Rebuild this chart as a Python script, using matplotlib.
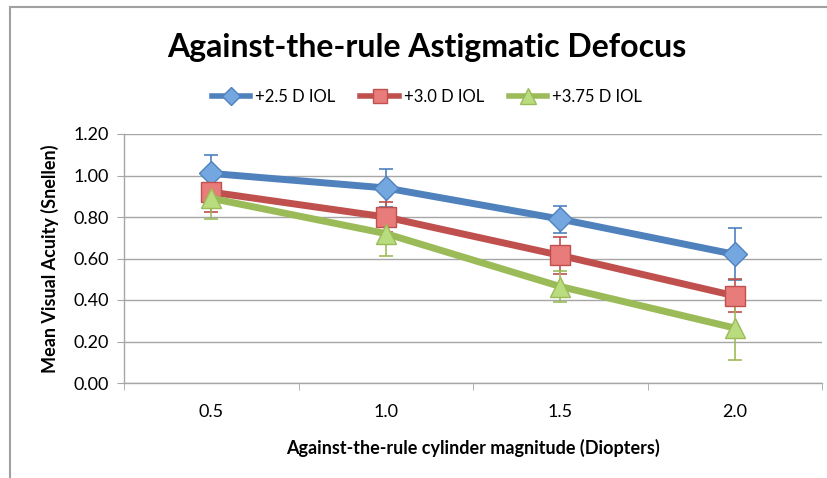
import matplotlib
matplotlib.use("Agg")
import matplotlib.pyplot as plt
from matplotlib.patches import Rectangle
from matplotlib.lines import Line2D
import numpy as np

plt.rcParams['font.family'] = ['Lato', 'DejaVu Sans']

categories = ["0.5", "1.0", "1.5", "2.0"]
series_names = ["+2.5 D IOL", "+3.0 D IOL", "+3.75 D IOL"]
iol_25 = [1.01, 0.94, 0.79, 0.62]
iol_25_err = [0.09, 0.09, 0.065, 0.125]
iol_30 = [0.92, 0.80, 0.615, 0.42]
iol_30_err = [0.095, 0.07, 0.09, 0.08]
iol_375 = [0.89, 0.72, 0.465, 0.265]
iol_375_err = [0.10, 0.11, 0.075, 0.155]
y_ticks = [0.0, 0.2, 0.4, 0.6, 0.8, 1.0, 1.2]

values = [iol_25, iol_30, iol_375]
errors = [iol_25_err, iol_30_err, iol_375_err]
line_colors = ["#4F81BD", "#C0504D", "#9BBB59"]
face_colors = ["#74A7E0", "#E87C7A", "#B9DC7E"]
markers = ["D", "s", "^"]
msizes = [12, 14, 15]

fig = plt.figure(figsize=(8.27, 4.78), dpi=100)
ax = fig.add_axes([124/827, 1-383/478, (822-124)/827, (383-134)/478])

x = np.arange(len(categories))
for v, e, lc in zip(values, errors, line_colors):
    ax.errorbar(x, v, yerr=e, fmt='none', ecolor=lc, elinewidth=1.2,
                capsize=5, capthick=1.2, zorder=2)
for v, lc, fc, m, ms in zip(values, line_colors, face_colors, markers, msizes):
    ax.plot(x, v, color=lc, lw=5, marker=m, markersize=ms,
            markerfacecolor=fc, markeredgecolor=lc, markeredgewidth=1, zorder=3)

ax.set_xlim(-0.5, len(categories) - 0.5)
ax.set_ylim(0, 1.2)
ax.set_yticks(y_ticks)
ax.set_yticklabels([f"{t:.2f}" for t in y_ticks], fontsize=13)
ax.yaxis.grid(True, color="#A6A6A6", lw=1)
ax.set_axisbelow(True)
ax.tick_params(axis='y', length=5, color="#A6A6A6", pad=6)

ax.set_xticks(x)
ax.set_xticklabels(categories, fontsize=13)
ax.set_xticks(np.arange(-0.5, len(categories)), minor=True)
ax.tick_params(axis='x', which='major', length=0, pad=15)
ax.tick_params(axis='x', which='minor', length=5, color="#A6A6A6")

for s in ["top", "right"]:
    ax.spines[s].set_visible(False)
for s in ["left", "bottom"]:
    ax.spines[s].set_color("#A6A6A6")
    ax.spines[s].set_linewidth(1)

ax.set_ylabel("Mean Visual Acuity (Snellen)", fontsize=13, fontweight='bold', labelpad=10)
ax.set_xlabel("Against-the-rule cylinder magnitude (Diopters)", fontsize=13,
              fontweight='bold', labelpad=14)

fig.text(427/827, 1-47/478, "Against-the-rule Astigmatic Defocus", fontsize=23,
         fontweight='bold', ha='center', va='center')

handles = [Line2D([0], [0], color=lc, lw=4, marker=m, markersize=ms*0.75,
                  markerfacecolor=fc, markeredgecolor=lc)
           for lc, fc, m, ms in zip(line_colors, face_colors, markers, msizes)]
fig.legend(handles, series_names, loc='center', bbox_to_anchor=(427/827, 1-97/478),
           ncol=3, frameon=False, fontsize=12, handlelength=2.3, handletextpad=0.3,
           columnspacing=1.5)

fig.add_artist(Rectangle((10/827, -0.1), 1.2, (1-7/478) + 0.1, transform=fig.transFigure,
                         fill=False, edgecolor="#A0A0A0", lw=1.5))

fig.savefig("out.png", dpi=100)
